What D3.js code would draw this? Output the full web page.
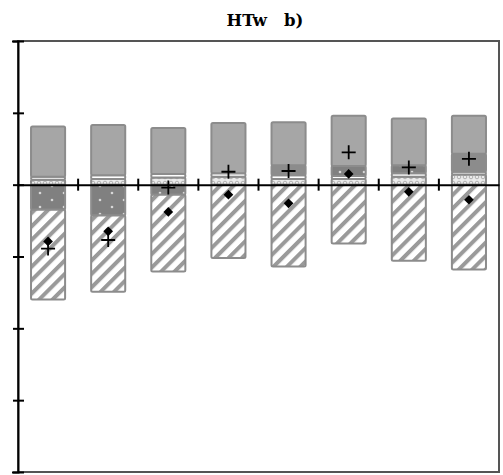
<!DOCTYPE html>
<html><head><meta charset="utf-8">
<script src="https://cdn.jsdelivr.net/npm/d3@7"></script>
<style>html,body{margin:0;padding:0;background:#fff;}svg{display:block;}</style>
</head><body>
<script>
const categories = ["1","2","3","4","5","6","7","8"];
const patternA = [0.07, 0.08, 0.10, 0.11, 0.08, 0.08, 0.11, 0.14];
const whiteB   = [0.04, 0.05, 0.05, 0.05, 0.05, 0.04, 0.05, 0.04];
const dottedC  = [-0.35, -0.43, -0.14, 0, 0, 0.14, 0.11, 0];
const solidD   = [0, 0, 0, 0, 0.14, 0, 0, 0.25];
const lightE   = [0.70, 0.70, 0.64, 0.70, 0.60, 0.70, 0.65, 0.53];
const hatchF   = [-1.25, -1.06, -1.07, -1.02, -1.14, -0.82, -1.06, -1.18];
const diamonds = [-0.79, -0.65, -0.38, -0.14, -0.26, 0.15, -0.10, -0.21];
const crosses  = [-0.89, -0.77, -0.04, 0.18, 0.19, 0.45, 0.24, 0.36];
const yTicks = [-4, -3, -2, -1, 0, 1, 2];
const title = "HTw   b)";

const W = 503, H = 475;
const L = 18, R = 499, T = 41, B = 472;
const svg = d3.select("body").append("svg").attr("width", W).attr("height", H);
const defs = svg.append("defs");

// patterns
const pA = defs.append("pattern").attr("id","pA").attr("patternUnits","userSpaceOnUse").attr("width",6).attr("height",6);
pA.append("rect").attr("width",6).attr("height",6).attr("fill","#ebebeb");
pA.append("circle").attr("cx",3).attr("cy",3).attr("r",1.8).attr("fill","none").attr("stroke","#b0b0b0").attr("stroke-width",1);
const pC = defs.append("pattern").attr("id","pC").attr("patternUnits","userSpaceOnUse").attr("width",24).attr("height",14);
pC.append("rect").attr("width",24).attr("height",14).attr("fill","#808080");
pC.append("circle").attr("cx",4).attr("cy",4).attr("r",1.3).attr("fill","#d8d8d8");
pC.append("circle").attr("cx",16).attr("cy",11).attr("r",1.3).attr("fill","#d8d8d8");
const pF = defs.append("pattern").attr("id","pF").attr("patternUnits","userSpaceOnUse").attr("width",9.5).attr("height",9.5).attr("patternTransform","rotate(45)");
pF.append("rect").attr("width",9.5).attr("height",9.5).attr("fill","#fff");
pF.append("rect").attr("width",4).attr("height",9.5).attr("fill","#9a9a9a");

const x = d3.scaleBand().domain(categories).range([L, R]).paddingInner(0.4).paddingOuter(0.2);
const y = d3.scaleLinear().domain([-4, 2]).range([B, T]);

const keys = ["A","B","C","D","E","F"];
const fills = {A:"url(#pA)", B:"#ffffff", C:"url(#pC)", D:"#8c8c8c", E:"#a6a6a6", F:"url(#pF)"};
const rows = categories.map((c,i)=>({cat:c, A:patternA[i], B:whiteB[i], C:dottedC[i], D:solidD[i], E:lightE[i], F:hatchF[i]}));
const series = d3.stack().keys(keys).offset(d3.stackOffsetDiverging)(rows);

// frame
svg.append("rect").attr("x",L).attr("y",T).attr("width",R-L).attr("height",B-T)
  .attr("fill","none").attr("stroke","#555").attr("stroke-width",2);

const gBars = svg.append("g");
series.forEach(s=>{
  gBars.selectAll(null).data(s.filter(d=>Math.abs(d[1]-d[0])>1e-9)).enter().append("rect")
    .attr("x", d=>x(d.data.cat)+1)
    .attr("width", x.bandwidth()-2)
    .attr("y", d=>y(Math.max(d[0],d[1])))
    .attr("height", d=>Math.abs(y(d[0])-y(d[1])))
    .attr("rx",1.5)
    .attr("fill", fills[s.key])
    .attr("stroke","#8c8c8c").attr("stroke-width",2);
});

// y axis
const yAxis = d3.axisLeft(y).tickValues(yTicks).tickSize(6).tickFormat("");
const gy = svg.append("g").attr("transform",`translate(${L},0)`).call(yAxis);
gy.select(".domain").attr("stroke","#000").attr("stroke-width",2);
gy.selectAll(".tick line").attr("x1",-5).attr("x2",6).attr("stroke","#000").attr("stroke-width",2);

// x axis at zero with boundary ticks
const xAxis = d3.axisBottom(x).tickSize(0).tickFormat("");
const gx = svg.append("g").attr("transform",`translate(0,${y(0)})`).call(xAxis);
gx.select(".domain").attr("stroke","#000").attr("stroke-width",2);
gx.selectAll(".tick line").remove();
const bounds = categories.map(c=>x(c)+x.bandwidth()+ x.step()*x.paddingInner()/2).slice(0,-1);
gx.selectAll(".bt").data(bounds).enter().append("line")
  .attr("x1",d=>d).attr("x2",d=>d).attr("y1",-6).attr("y2",6)
  .attr("stroke","#000").attr("stroke-width",2);

// markers
const cx = c => x(c) + x.bandwidth()/2;
svg.selectAll(".dm").data(categories).enter().append("path")
  .attr("d", d3.symbol().type(d3.symbolDiamond2).size(60))
  .attr("transform",(c,i)=>`translate(${cx(c)},${y(diamonds[i])})`)
  .attr("fill","#000");
svg.selectAll(".cr").data(categories).enter().append("path")
  .attr("d", (c,i)=>{const X=cx(c),Y=y(crosses[i]),s=7;return `M${X-s},${Y}H${X+s}M${X},${Y-s}V${Y+s}`;})
  .attr("stroke","#000").attr("stroke-width",1.8).attr("fill","none");

svg.append("text").attr("x",265).attr("y",26).attr("text-anchor","middle")
  .attr("font-family","'DejaVu Serif', serif").attr("font-weight","bold").attr("font-size",16.5)
  .attr("xml:space","preserve").style("white-space","pre").text(title);
</script>
</body></html>
